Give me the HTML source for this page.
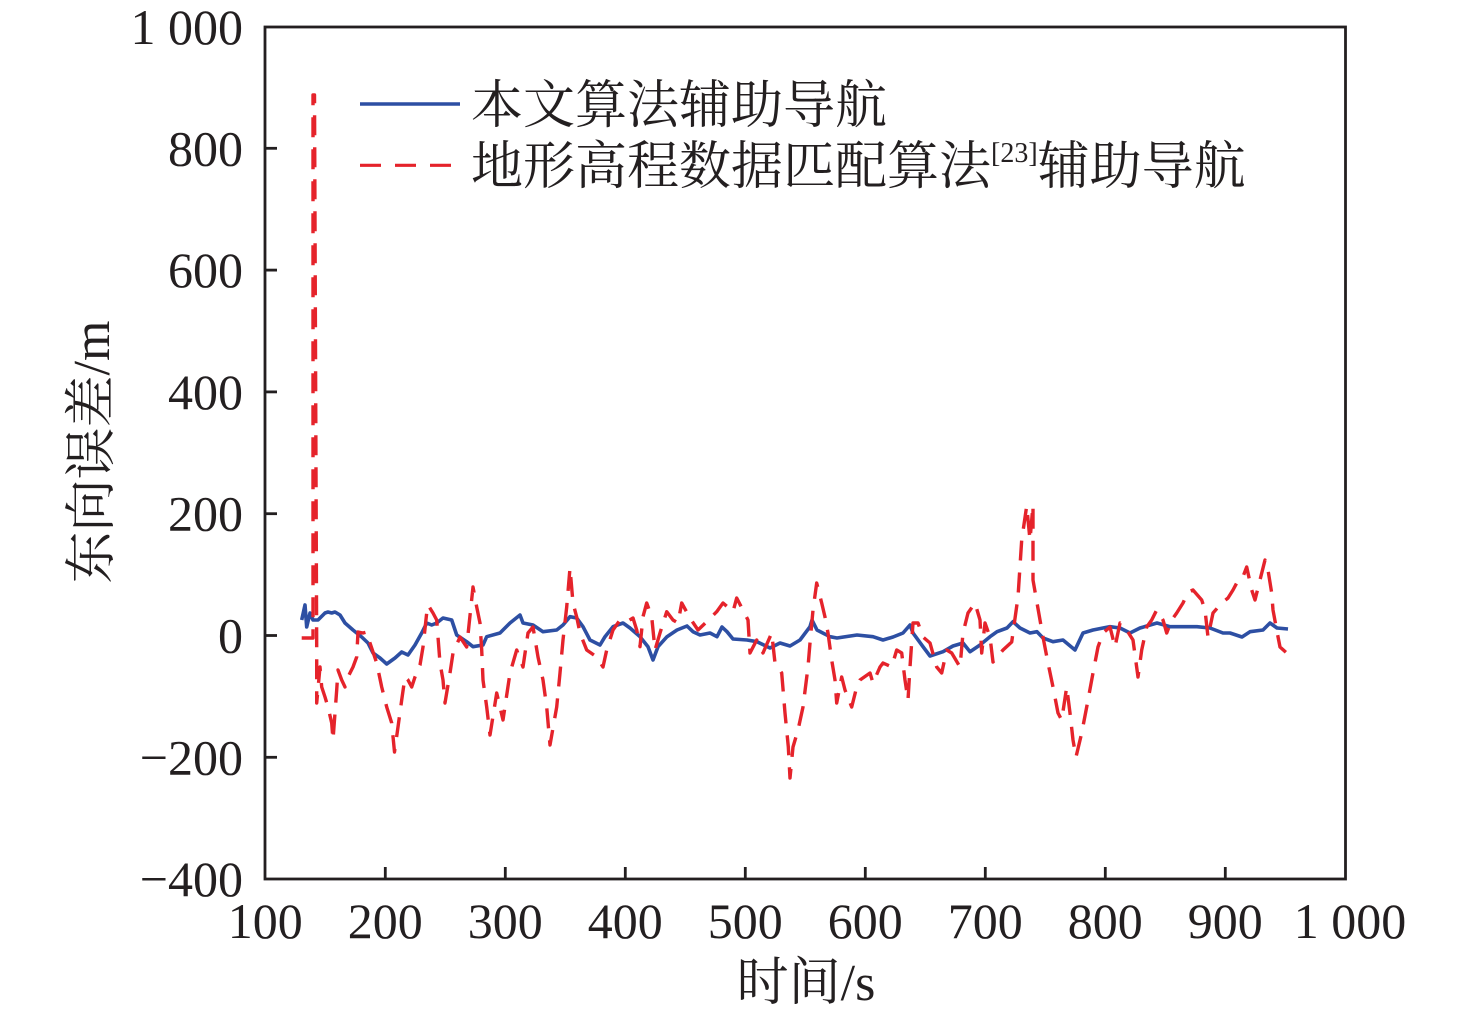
<!DOCTYPE html>
<html>
<head>
<meta charset="utf-8">
<style>
html,body{margin:0;padding:0;background:#fff;}
svg{display:block;}
.t{font-family:"Liberation Serif","Noto Serif CJK SC",serif;fill:#231f20;}
</style>
</head>
<body>
<svg width="1476" height="1019" viewBox="0 0 1476 1019" xmlns="http://www.w3.org/2000/svg">
<rect width="1476" height="1019" fill="#fff"/>

<!-- Blue series -->
<polyline fill="none" stroke="#2d4fa3" stroke-width="3.6" stroke-linejoin="round" points="301.7,620 305,605 306.7,627 310,613 313,620 318,620 325,613 328,612 331.7,613 335,612 340,615 345,623 353,630 361.7,637 368,643 373,653 380,658 386.7,664 395,658 401.7,652 408,655 415,645 421.7,633 426.7,623 431.7,625 436.7,623 443,618 451.7,620 456.7,635 466.7,641.7 473,646.7 483,645 486.7,636.7 500,633 510,623 520,615 523,623 533,625 543,631.7 556.7,630 563,625 570,616.7 576.7,618 583,626.7 590,640 600,645 605,636.7 613,626.7 623,623 630,628 640,636.7 648,646.7 653,660 658,646.7 667,636.7 677,630 687,626 693,631.7 700,635 710,633 717,636.7 722,627 727,631.7 733,639 747,640 757,641.7 770,648 780,643 790,646 800,640 810,626.7 812,620 817,630 830,636.7 837,638 857,635 873,636.7 883,640 893,637 903,633 910,625 913,633 923,646.7 930,656 943,651.7 953,646 963,643 970,651.7 980,645 990,636.7 997,631.7 1007,628 1013,621.7 1020,628 1030,633 1037,631.7 1043,638 1053,641.7 1063,640 1075,650 1083,633 1093,630 1103,628 1110,626.7 1120,628 1130,633 1140,628 1157,623 1170,626.7 1183,626.7 1197,626.7 1210,628 1223,633 1230,633 1242,637 1250,631.7 1263,630 1270,623 1277,628 1288,629"/>

<!-- Red dashed series -->
<polyline fill="none" stroke="#e5232b" stroke-width="3.4" stroke-dasharray="20 12" stroke-linejoin="round" points="301.7,638 313,638 313,95 314.5,95 316.7,650 316.7,703 320,667 321.7,687 325,697 328,707 331.7,723 333,740 335,713 336.7,690 338,670 341.7,680 345,687 348,677 353,667 356.7,657 358,632 363,633 366.7,632 370,643 376.7,663 381.7,687 386.7,707 391.7,723 394.5,752 398,727 401.7,700 405,677 408,680 411.7,687 415,677 420,665 423,647 426.7,613 428,605 433,613 436.7,620 440,663 443,680 445,703 450,673 453,653 460,637 466.7,647 473,587 476.7,607 480,623 481.7,650 483,680 486.7,707 490,735 496.7,693 503,720 510,673 516.7,650 523,667 528,633 533,627 538,657 543,680 546.7,707 550,745 556.7,707 560,673 563,640 566.7,607 570,568 573,603 576.7,617 580,633 586.7,650 596.7,657 603,667 606.7,650 613,630 620,620 626.7,621.7 633,618 636.7,630 640,646.7 643,616.7 646.7,603 651.7,616.7 655,650 660,633 666.7,611.7 673,620 678,623 681.7,603 690,618 698,630 706.7,621.7 716.7,611.7 723,603 733,611.7 736.7,598 748,620 750,653 756.7,640 763,653 771.7,633 775,663 781.7,673 785,713 788.3,746.7 790,778 793,747 798,730 803,707 808,667 810,643 813,610 816.7,583 821.7,603 825,617 828,633 831.7,660 835,680 836.7,703 841.7,677 845,690 851.7,707 856.7,687 860,680 870,673 873,683 880,667 883,663 891.7,667 896.7,650 901.7,653 905,680 908,700 910,667 913,623 918,623 923,637 930,643 936.7,667 941.7,673 946.7,650 951.7,653 960,667 963,633 968,613 975,603 980,620 981.7,653 985,623 990,637 993,662 1003,650 1011.7,642 1018,597 1021.7,540 1026.7,506 1030,540 1033,505 1033,580 1040,620 1043,637 1048,663 1053,687 1058,713 1061.7,720 1066.7,687 1070,713 1073,740 1076,757 1081.7,733 1086.7,707 1093,673 1098,647 1103,633 1110,627 1115,647 1120,623 1126.7,630 1133,640 1138,677 1141.7,650 1146.7,627 1151.7,620 1156.7,610 1163,620 1166.7,633 1171.7,620 1176.7,613 1183,603 1188,592 1193,590 1201.7,600 1205,610 1208,637 1213,613 1221.7,603 1228,598 1233,590 1236.7,583 1241.7,580 1246.7,567 1251.7,590 1255,600 1260,580 1265,560 1268,570 1271.7,593 1273,610 1276.7,630 1280,647 1286.7,653"/>

<!-- Frame -->
<rect x="265" y="27" width="1080.5" height="852" fill="none" stroke="#231f20" stroke-width="2.8"/>

<!-- Ticks -->
<g stroke="#231f20" stroke-width="2.8">
<line x1="385.3" y1="879" x2="385.3" y2="867"/>
<line x1="505.3" y1="879" x2="505.3" y2="867"/>
<line x1="625.3" y1="879" x2="625.3" y2="867"/>
<line x1="745.3" y1="879" x2="745.3" y2="867"/>
<line x1="865.3" y1="879" x2="865.3" y2="867"/>
<line x1="985.3" y1="879" x2="985.3" y2="867"/>
<line x1="1105.3" y1="879" x2="1105.3" y2="867"/>
<line x1="1225.3" y1="879" x2="1225.3" y2="867"/>
<line x1="265" y1="148.3" x2="277" y2="148.3"/>
<line x1="265" y1="270.1" x2="277" y2="270.1"/>
<line x1="265" y1="391.9" x2="277" y2="391.9"/>
<line x1="265" y1="513.7" x2="277" y2="513.7"/>
<line x1="265" y1="635.5" x2="277" y2="635.5"/>
<line x1="265" y1="757.3" x2="277" y2="757.3"/>
</g>

<!-- Y tick labels -->
<g class="t" font-size="50" text-anchor="end">
<text x="243" y="44">1 000</text>
<text x="243" y="165.3">800</text>
<text x="243" y="287.1">600</text>
<text x="243" y="408.9">400</text>
<text x="243" y="530.7">200</text>
<text x="243" y="652.5">0</text>
<text x="243" y="774.3">−200</text>
<text x="243" y="896">−400</text>
</g>

<!-- X tick labels -->
<g class="t" font-size="50" text-anchor="middle">
<text x="265.3" y="938">100</text>
<text x="385.3" y="938">200</text>
<text x="505.3" y="938">300</text>
<text x="625.3" y="938">400</text>
<text x="745.3" y="938">500</text>
<text x="865.3" y="938">600</text>
<text x="985.3" y="938">700</text>
<text x="1105.3" y="938">800</text>
<text x="1225.3" y="938">900</text>
<text x="1350" y="938">1 000</text>
</g>

<!-- Axis titles -->
<text class="t" font-size="52" text-anchor="middle" x="806" y="1000">时间/s</text>
<text class="t" font-size="52" text-anchor="middle" transform="translate(109,452) rotate(-90)">东向误差/m</text>

<!-- Legend -->
<line x1="360" y1="104" x2="460" y2="104" stroke="#2d4fa3" stroke-width="3.4"/>
<line x1="360" y1="165.3" x2="452" y2="165.3" stroke="#e5232b" stroke-width="3.2" stroke-dasharray="21 14"/>
<text class="t" font-size="52" x="471" y="123">本文算法辅助导航</text>
<text class="t" font-size="52" x="471" y="184">地形高程数据匹配算法<tspan font-size="28" dy="-22">[23]</tspan><tspan font-size="52" dy="22">辅助导航</tspan></text>
</svg>
</body>
</html>
